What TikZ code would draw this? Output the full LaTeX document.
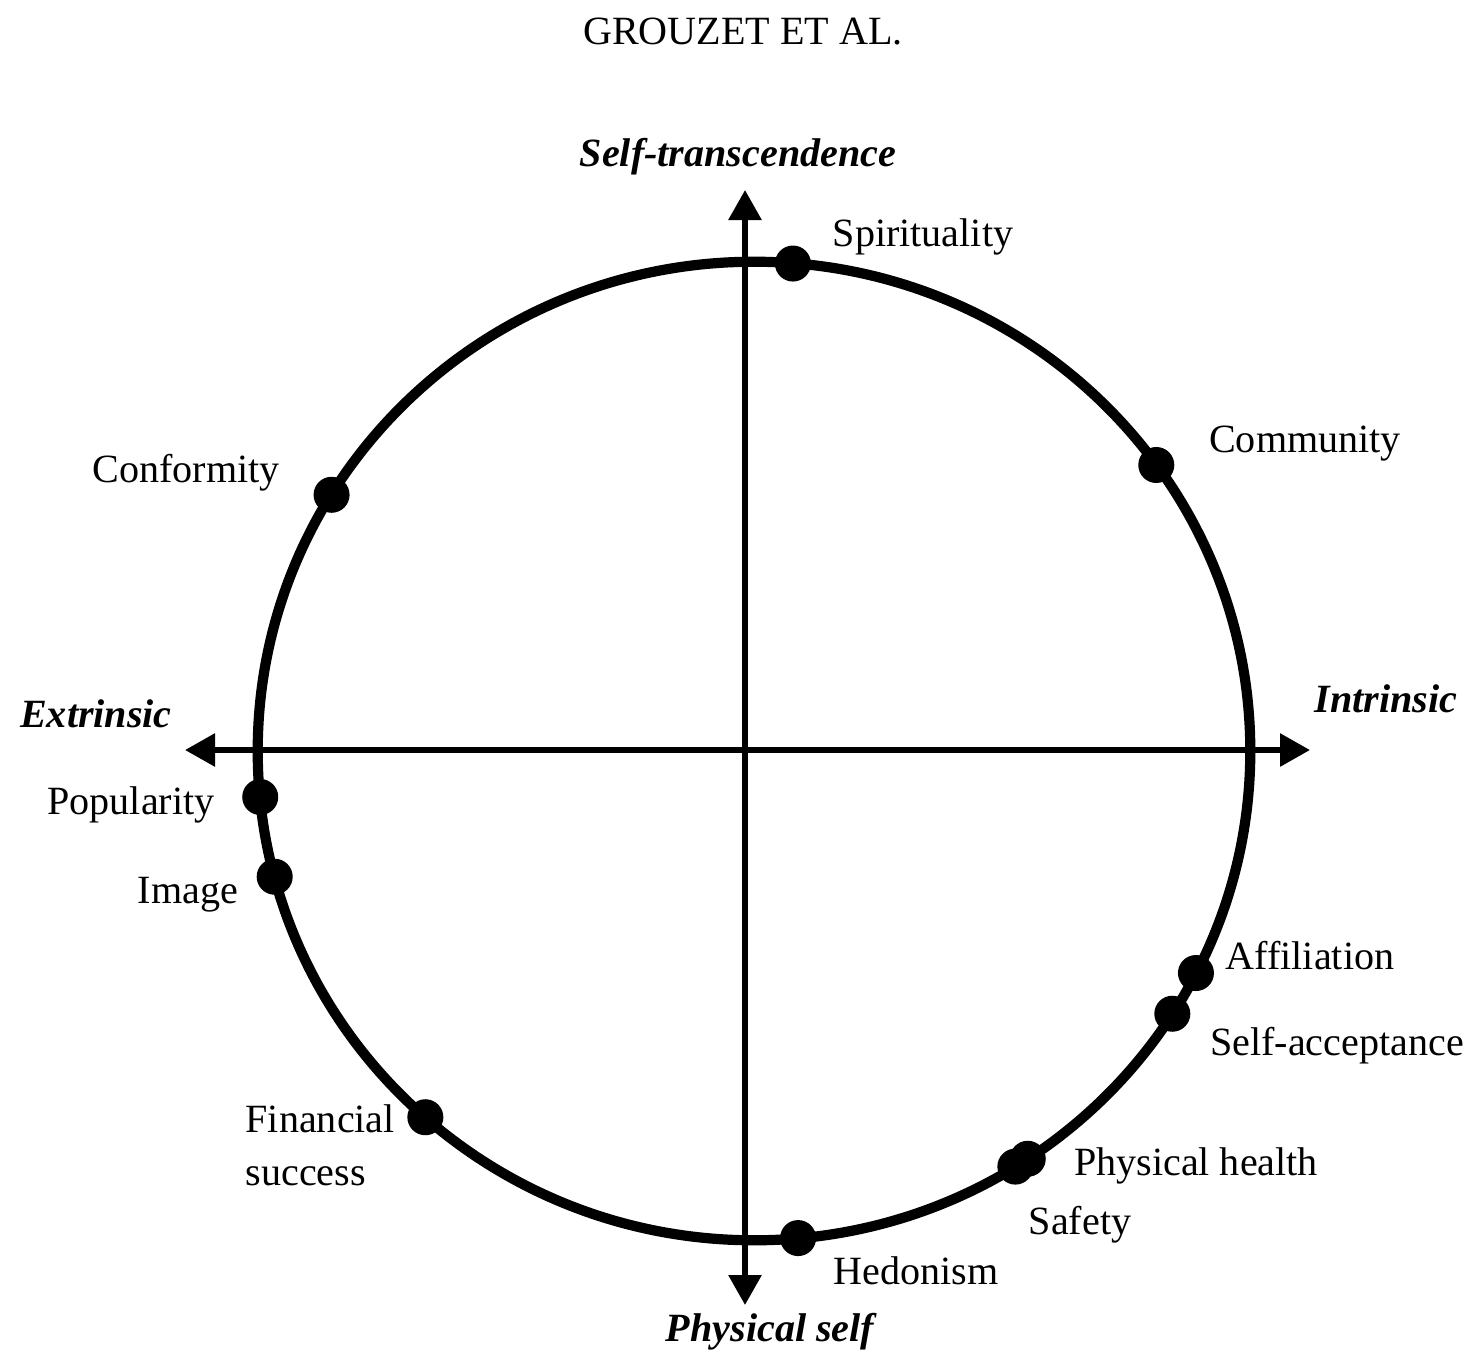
\documentclass[tikz,border=0pt]{standalone}
\usepackage{fontspec}
\setmainfont{Liberation Serif}
\usetikzlibrary{calc,arrows.meta}

\tikzset{
  axis/.style={line width=1.7pt, -{Triangle[length=0.3cm,width=0.32cm]}},
  ring/.style={line width=2.9pt},
  lbl/.style={inner sep=0pt, font=\fontsize{11.4}{13.5}\selectfont},
  pole/.style={inner sep=0pt, font=\fontsize{11.4}{13.5}\selectfont\bfseries\itshape}
}

\begin{document}
\begin{tikzpicture}[x=0.01cm, y=-0.01cm]
			%%%%% START %%%%%
			\useasboundingbox (0, 0) rectangle (1473, 1351);
			
			\node[lbl] (head) at (743, 32) {GROUZET ET AL.};
			
			\coordinate (c) at (754, 751);
			\coordinate (ax) at (745, 750);
			\coordinate (axw) at (185, 750);
			\coordinate (axe) at (1310, 750);
			\coordinate (axn) at (745, 190);
			\coordinate (axs) at (745, 1305);
			
			\draw[ring] (c) ellipse [x radius=4.96cm, y radius=4.89cm];
			
			\draw[axis] (ax) -- (axw);
			\draw[axis] (ax) -- (axe);
			\draw[axis] (ax) -- (axn);
			\draw[axis] (ax) -- (axs);
			
			% values on the ring
			\foreach \ang/\nm in {85.5/spi, 35.8/com, 148.4/con, 185.4/pop, 194.9/ima,
			  228.5/fin, 275.1/hed, 301.8/saf, 303.5/phy, 327.5/sac, 333/aff}
			  \fill ($(c)+({496*cos(\ang)},{-489*sin(\ang)})$) coordinate (\nm) circle (0.18cm);
			
			\node[pole] (st) at (738, 157) {Self-transcendence};
			\node[pole] (ext) at (96, 714) {Extrinsic};
			\node[pole] (int) at (1386, 699) {Intrinsic};
			\node[pole] (ps) at (770, 1332) {Physical self};
			
			\node[lbl] (spil) at (923, 237) {Spirituality};
			\node[lbl] (coml) at (1305, 444) {Community};
			\node[lbl] (conl) at (186, 473) {Conformity};
			\node[lbl] (popl) at (131, 805) {Popularity};
			\node[lbl] (imal) at (188, 895) {Image};
			\node[lbl, anchor=west, align=left] (finl) at (245, 1145) {Financial\\[1.5pt]success};
			\node[lbl] (hedl) at (916, 1271) {Hedonism};
			\node[lbl] (safl) at (1080, 1225) {Safety};
			\node[lbl] (phyl) at (1196, 1166) {Physical health};
			\node[lbl] (sacl) at (1337, 1046) {Self-acceptance};
			\node[lbl] (affl) at (1310, 956) {Affiliation};
			
			%%%%% END %%%%%
\end{tikzpicture}
\end{document}
